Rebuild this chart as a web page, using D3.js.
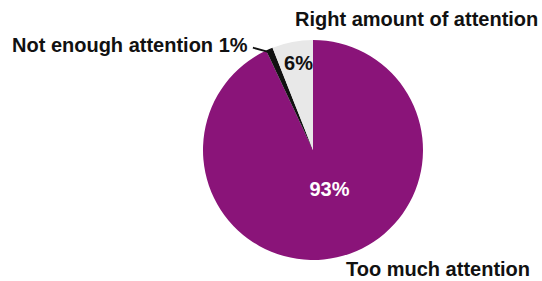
<!DOCTYPE html>
<html>
<head>
<meta charset="utf-8">
<script src="https://cdn.jsdelivr.net/npm/d3@7"></script>
<style>
  body { margin: 0; background: #fff; }
  text { font-family: "Liberation Sans", Arial, sans-serif; font-weight: bold; }
</style>
</head>
<body>
<div id="chart"></div>
<script>
var width = 542, height = 281;

// slices, clockwise from 12 o'clock
var categories = ["Too much attention", "Not enough attention", "Right amount of attention"];
var values = [93, 1, 6];
var colors = ["#8a1479", "#111111", "#e8e8e8"];

var cx = 313, cy = 150, radius = 110;

var svg = d3.select("#chart").append("svg")
  .attr("width", width).attr("height", height);

var g = svg.append("g").attr("transform", "translate(" + cx + "," + cy + ")");

var pie = d3.pie().sort(null).value(function(d) { return d; });
var arcs = pie(values);
var arc = d3.arc().innerRadius(0).outerRadius(radius);

g.selectAll("path.slice").data(arcs).enter().append("path")
  .attr("class", "slice")
  .attr("d", arc)
  .attr("fill", function(d, i) { return colors[i]; });

// percentage labels inside
g.append("text")
  .attr("x", 16.5).attr("y", 46)
  .attr("text-anchor", "middle")
  .attr("fill", "#fff")
  .style("font-size", "20px")
  .text(values[0] + "%");

var grey = arcs[2];
var ga = (grey.startAngle + grey.endAngle) / 2;
g.append("text")
  .attr("x", Math.sin(ga) * radius * 0.8 + 2)
  .attr("y", -Math.cos(ga) * radius * 0.8 + 6)
  .attr("text-anchor", "middle")
  .attr("fill", "#111")
  .style("font-size", "20px")
  .text(values[2] + "%");

// leader line for the 1% slice
var blk = arcs[1];
var ba = (blk.startAngle + blk.endAngle) / 2;
var px = Math.sin(ba) * (radius - 4), py = -Math.cos(ba) * (radius - 4);
g.append("path")
  .attr("d", "M" + px + "," + py + "L" + (px - 18) + "," + (py - 5))
  .attr("stroke", "#111").attr("stroke-width", 1.8).attr("fill", "none");

svg.append("text")
  .attr("x", 12).attr("y", 52)
  .attr("fill", "#111")
  .style("font-size", "20px")
  .text(categories[1] + " " + values[1] + "%");

svg.append("text")
  .attr("x", 295).attr("y", 26)
  .attr("fill", "#111")
  .style("font-size", "20px")
  .text(categories[2]);

svg.append("text")
  .attr("x", 346).attr("y", 276)
  .attr("fill", "#111")
  .style("font-size", "20px")
  .text(categories[0]);
</script>
</body>
</html>
